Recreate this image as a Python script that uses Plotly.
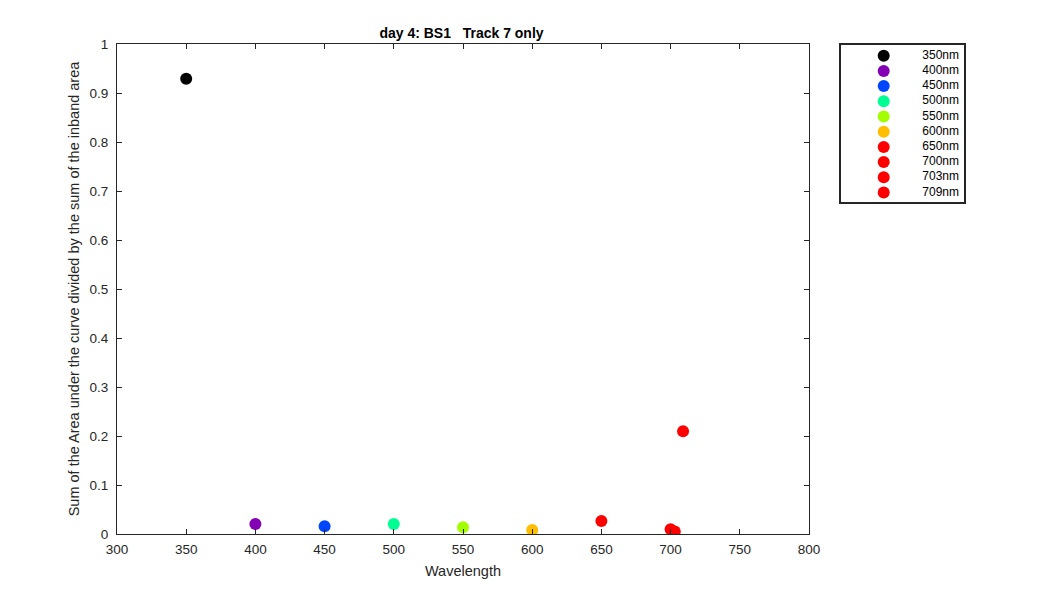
import plotly.graph_objects as go

wavelengths = [350, 400, 450, 500, 550, 600, 650, 700, 703, 709]
ratios = [0.929, 0.0204, 0.016, 0.0204, 0.014, 0.008, 0.0266, 0.0098, 0.005, 0.2097]
labels = ["350nm", "400nm", "450nm", "500nm", "550nm", "600nm", "650nm", "700nm", "703nm", "709nm"]
colors = ["#000000", "#8300B5", "#0046FF", "#00FF92", "#A3FF00", "#FFBE00",
          "#FF0000", "#FF0000", "#FF0000", "#FF0000"]

x_ticks = list(range(300, 801, 50))
y_ticks = [0, 0.1, 0.2, 0.3, 0.4, 0.5, 0.6, 0.7, 0.8, 0.9, 1]
y_tick_text = ["0", "0.1", "0.2", "0.3", "0.4", "0.5", "0.6", "0.7", "0.8", "0.9", "1"]

W, H = 1050, 600
OFF = 8  # page body margin


def px_x(v):
    return (v - OFF) / W


def px_y(v):
    return 1 - (v - OFF) / H


fig = go.Figure()
for w, r, lab, c in zip(wavelengths, ratios, labels, colors):
    fig.add_trace(go.Scatter(x=[w], y=[r], mode="markers", name=lab, showlegend=False,
                             marker=dict(color=c, size=12, line=dict(width=0)),
                             xaxis="x", yaxis="y"))

# manual legend (box in pixel-like units: 125 wide, 159 tall)
n = len(labels)
leg_y = [11.7 + 15.2 * i for i in range(n)]
fig.add_trace(go.Scatter(x=[43.7] * n, y=leg_y, mode="markers", showlegend=False,
                         marker=dict(color=colors, size=12, line=dict(width=0)),
                         xaxis="x2", yaxis="y2", hoverinfo="skip"))
fig.add_trace(go.Scatter(x=[119] * n, y=leg_y, mode="text", text=labels, showlegend=False,
                         textposition="middle left", textfont=dict(size=12, color="black"),
                         xaxis="x2", yaxis="y2", hoverinfo="skip"))

axis_common = dict(showgrid=False, zeroline=False, showline=True, linecolor="#262626",
                   linewidth=1, mirror="ticks", ticks="inside", ticklen=5,
                   tickcolor="#262626", tickfont=dict(size=13.5, color="#262626"))

fig.add_shape(type="rect", xref="paper", yref="paper",
              x0=px_x(840), x1=px_x(965), y0=px_y(203), y1=px_y(44),
              line=dict(color="#262626", width=2), fillcolor="rgba(0,0,0,0)", layer="above")

fig.update_layout(
    width=W, height=H,
    paper_bgcolor="white", plot_bgcolor="white",
    font=dict(family="Liberation Sans, Arial, sans-serif", color="#262626"),
    margin=dict(l=0, r=0, t=0, b=0),
    title=dict(text="<b>day 4: BS1   Track 7 only</b>", x=px_x(461.5), xanchor="center",
               y=px_y(33), yanchor="middle", font=dict(size=14, color="black")),
    xaxis=dict(domain=[px_x(117), px_x(809)], range=[300, 800], tickvals=x_ticks,
               ticklabelstandoff=3,
               title=dict(text="Wavelength", font=dict(size=14.5), standoff=9),
               automargin=False, **axis_common),
    yaxis=dict(domain=[px_y(534), px_y(44)], range=[0, 1], tickvals=y_ticks, ticktext=y_tick_text,
               ticklabelstandoff=5,
               title=dict(text="Sum of the Area under the curve divided by the sum of the inband area",
                          font=dict(size=14.5), standoff=6),
               automargin=False, **axis_common),
    xaxis2=dict(domain=[px_x(840), px_x(965)], range=[0, 125], visible=False, fixedrange=True),
    yaxis2=dict(domain=[px_y(203), px_y(44)], range=[159, 0], visible=False, fixedrange=True),
    showlegend=False,
)

fig.write_html("out.html")
